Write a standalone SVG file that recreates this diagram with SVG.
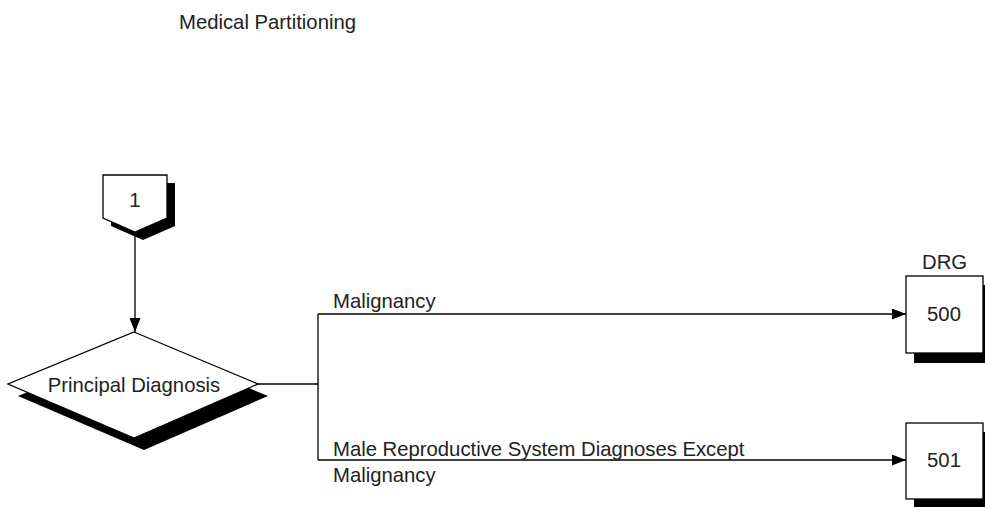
<svg xmlns="http://www.w3.org/2000/svg" width="985" height="507" viewBox="0 0 985 507">
  <defs>
    <marker id="arrow" viewBox="0 0 14 11" refX="14" refY="5.5" markerWidth="14" markerHeight="11" markerUnits="userSpaceOnUse" orient="auto">
      <path d="M0,0 L14,5.5 L0,11 Z" fill="#000"/>
    </marker>
  </defs>
  <style>
    .lbl { font-family: "Liberation Sans", Arial, sans-serif; font-size: 20.3px; fill: #222; }
    .mid { text-anchor: middle; }
    .shape { fill: #fff; stroke: #000; stroke-width: 1.3; }
    .shadow { fill: #000; stroke: none; }
    .wire { fill: none; stroke: #000; stroke-width: 1.3; }
  </style>
  <rect width="985" height="507" fill="#fff"/>

  <text class="lbl" x="179" y="29">Medical Partitioning</text>
  <text class="lbl" x="922" y="269">DRG</text>

  <!-- off-page connector 1 -->
  <g id="node-connector-1">
    <path class="shadow" d="M111,183 L175,183 L175,226 L143,240 L111,226 Z"/>
    <path class="shape" d="M103,175 L167,175 L167,218 L135,232 L103,218 Z"/>
    <text class="lbl mid" x="135" y="207">1</text>
  </g>

  <!-- decision: principal diagnosis -->
  <g id="node-principal-diagnosis">
    <path class="shadow" d="M144,344 L268,396 L144,450 L18,396 Z"/>
    <path class="shape" d="M134,332 L258,384 L134,438 L8,384 Z"/>
    <text class="lbl mid" x="134" y="392">Principal Diagnosis</text>
  </g>

  <!-- DRG 500 -->
  <g id="node-drg-500">
    <rect class="shadow" x="914" y="285" width="77" height="78"/>
    <rect class="shape" x="906" y="276" width="77" height="77"/>
    <text class="lbl mid" x="944" y="321">500</text>
  </g>

  <!-- DRG 501 -->
  <g id="node-drg-501">
    <rect class="shadow" x="914" y="432" width="77" height="78"/>
    <rect class="shape" x="906" y="423" width="77" height="76"/>
    <text class="lbl mid" x="944" y="467">501</text>
  </g>

  <!-- connectors and branch labels -->
  <g id="connectors">
    <path class="wire" d="M135,232 L135,332" marker-end="url(#arrow)"/>
    <path class="wire" d="M258,384 L318,384"/>
    <path class="wire" d="M318,314 L318,460"/>
    <path class="wire" d="M318,314 L906,314" marker-end="url(#arrow)"/>
    <path class="wire" d="M318,460 L906,460" marker-end="url(#arrow)"/>
    <text class="lbl" x="333" y="308">Malignancy</text>
    <text class="lbl" x="333" y="456">Male Reproductive System Diagnoses Except</text>
    <text class="lbl" x="333" y="482">Malignancy</text>
  </g>
</svg>
